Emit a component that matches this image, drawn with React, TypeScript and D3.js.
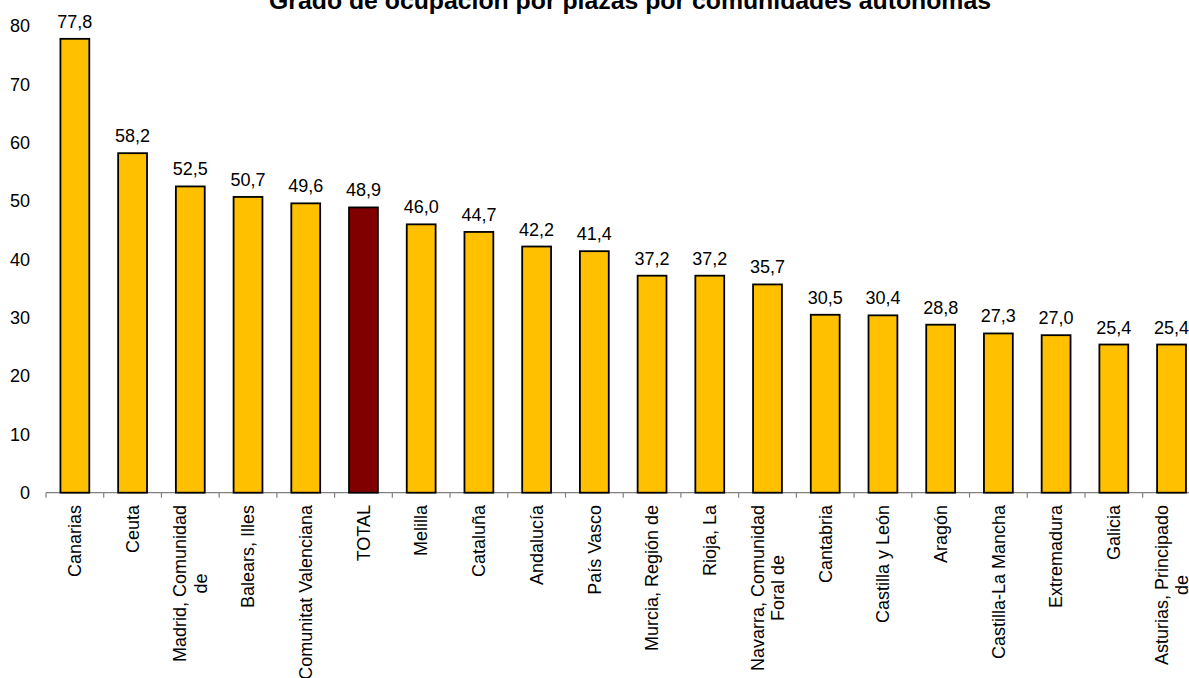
import React, { useMemo } from "react";
import * as d3 from "d3";

const categories: string[] = [
  "Canarias",
  "Ceuta",
  "Madrid, Comunidad|de",
  "Balears, Illes",
  "Comunitat Valenciana",
  "TOTAL",
  "Melilla",
  "Cataluña",
  "Andalucía",
  "País Vasco",
  "Murcia, Región de",
  "Rioja, La",
  "Navarra, Comunidad|Foral de",
  "Cantabria",
  "Castilla y León",
  "Aragón",
  "Castilla-La Mancha",
  "Extremadura",
  "Galicia",
  "Asturias, Principado|de",
];

const values: number[] = [
  77.8, 58.2, 52.5, 50.7, 49.6, 48.9, 46.0, 44.7, 42.2, 41.4, 37.2, 37.2, 35.7,
  30.5, 30.4, 28.8, 27.3, 27.0, 25.4, 25.4,
];

const highlight: string[] = ["TOTAL"];

const yTicks: number[] = [0, 10, 20, 30, 40, 50, 60, 70, 80];

const title = "Grado de ocupación por plazas por comunidades autónomas";

const W = 1189;
const H = 678;
const FONT = "'Liberation Sans', Arial, Helvetica, sans-serif";

export default function App() {
  const x = d3
    .scaleBand<string>()
    .domain(categories)
    .range([46, 1200.4])
    .paddingInner(0.5)
    .paddingOuter(0.25);
  const y = d3.scaleLinear().domain([0, 80]).range([492.7, 26]);
  const step = x.step();

  const measure = useMemo(() => {
    const c = document.createElement("canvas");
    const ctx = c.getContext("2d")!;
    ctx.font = `18px ${FONT}`;
    return (s: string) => ctx.measureText(s).width;
  }, []);

  const fmt = (v: number) => v.toFixed(1).replace(".", ",");
  const lineH = 20.5;

  return (
    <svg
      width={W}
      height={H}
      style={{ position: "absolute", left: 0, top: 0, background: "#fff" }}
      fontFamily={FONT}
    >
      <text
        x={630}
        y={9}
        textAnchor="middle"
        fontSize={24.8}
        fontWeight="bold"
        fill="#000"
      >
        {title}
      </text>

      {yTicks.map((t) => (
        <text
          key={t}
          x={30}
          y={y(t)}
          dy="0.35em"
          textAnchor="end"
          fontSize={18}
          fill="#000"
        >
          {t}
        </text>
      ))}

      <line
        x1={46}
        x2={1200.4}
        y1={y(0)}
        y2={y(0)}
        stroke="#808080"
        strokeWidth={1.2}
      />
      {d3.range(categories.length + 1).map((i) => (
        <line
          key={i}
          x1={46 + i * step}
          x2={46 + i * step}
          y1={y(0)}
          y2={y(0) + 5}
          stroke="#808080"
          strokeWidth={1.2}
        />
      ))}

      {categories.map((c, i) => (
        <rect
          key={c}
          x={x(c)!}
          y={y(values[i])}
          width={x.bandwidth()}
          height={y(0) - y(values[i])}
          fill={highlight.includes(c) ? "#800000" : "#FFC000"}
          stroke="#000"
          strokeWidth={1.8}
        />
      ))}

      {categories.map((c, i) => (
        <text
          key={c}
          x={x(c)! + x.bandwidth() / 2}
          y={y(values[i]) - 11}
          textAnchor="middle"
          fontSize={18}
          fill="#000"
        >
          {fmt(values[i])}
        </text>
      ))}

      {categories.map((c) => {
        const lines = c.split("|");
        const maxW = Math.max(...lines.map(measure));
        const cx = x(c)! + x.bandwidth() / 2;
        return (
          <g key={c} transform={`translate(${cx},505) rotate(-90)`}>
            {lines.map((l, j) => (
              <text
                key={j}
                x={-maxW / 2}
                y={(j - (lines.length - 1) / 2) * lineH}
                dy="0.35em"
                textAnchor="middle"
                fontSize={18}
                fill="#000"
              >
                {l}
              </text>
            ))}
          </g>
        );
      })}
    </svg>
  );
}
